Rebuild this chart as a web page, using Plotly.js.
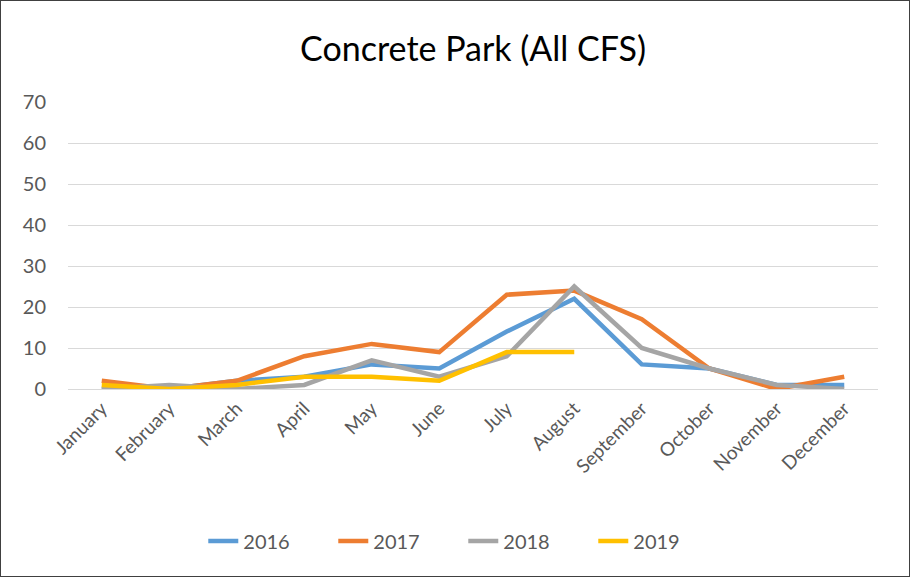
<!DOCTYPE html>
<html><head><meta charset="utf-8">
<script src="https://cdn.plot.ly/plotly-3.0.1.min.js"></script>
<style>body{margin:0;background:#fff}#chart{width:910px;height:577px;box-sizing:border-box;border:1px solid #404040}</style>
</head><body><div id="chart"></div>
<script>
const months = ["January","February","March","April","May","June","July","August","September","October","November","December"];
const s2016 = [0,0,2,3,6,5,14,22,6,5,1,1];
const s2017 = [2,0,2,8,11,9,23,24,17,5,0,3];
const s2018 = [0,1,0,1,7,3,8,25,10,5,1,0];
const s2019 = [1,0,1,3,3,2,9,9];
const names = ["2016","2017","2018","2019"];
const colors = ["#5B9BD5","#ED7D31","#A5A5A5","#FFC000"];
const series = [s2016,s2017,s2018,s2019];
const traces = series.map((v,i)=>({
  x: months.slice(0,v.length), y: v, name: names[i], type:'scatter', mode:'lines',
  line:{color:colors[i], width:4.5}
}));
const layout = {
  width:908, height:575,
  margin:{l:67,r:31,t:101,b:187},
  paper_bgcolor:'#fff', plot_bgcolor:'#fff',
  font:{family:'Lato, Carlito, sans-serif', color:'#595959', size:20},
  title:{text:'Concrete Park (All CFS)', font:{size:34, color:'#000'}, xref:'paper', x:0.5, xanchor:'center', y:0.917, yanchor:'middle'},
  xaxis:{type:'category', categoryarray:months, categoryorder:'array', range:[-0.5,11.5], tickangle:-45, showgrid:false, showline:true, linecolor:'#D9D9D9', linewidth:1, ticks:'', tickfont:{size:19,color:'#595959'}, automargin:false},
  yaxis:{range:[0,70], dtick:10, showgrid:true, gridcolor:'#D9D9D9', gridwidth:1, zeroline:false, showline:false, ticks:'', tickfont:{size:20,color:'#595959'}, automargin:false, ticklabelstandoff:21},
  legend:{orientation:'h', x:0.488, xanchor:'center', y:-0.53, yanchor:'middle', font:{size:20,color:'#595959'}, entrywidth:85, entrywidthmode:'pixels', traceorder:'normal'},
  showlegend:true
};
Plotly.newPlot('chart', traces, layout, {displayModeBar:false, staticPlot:true});
</script></body></html>
